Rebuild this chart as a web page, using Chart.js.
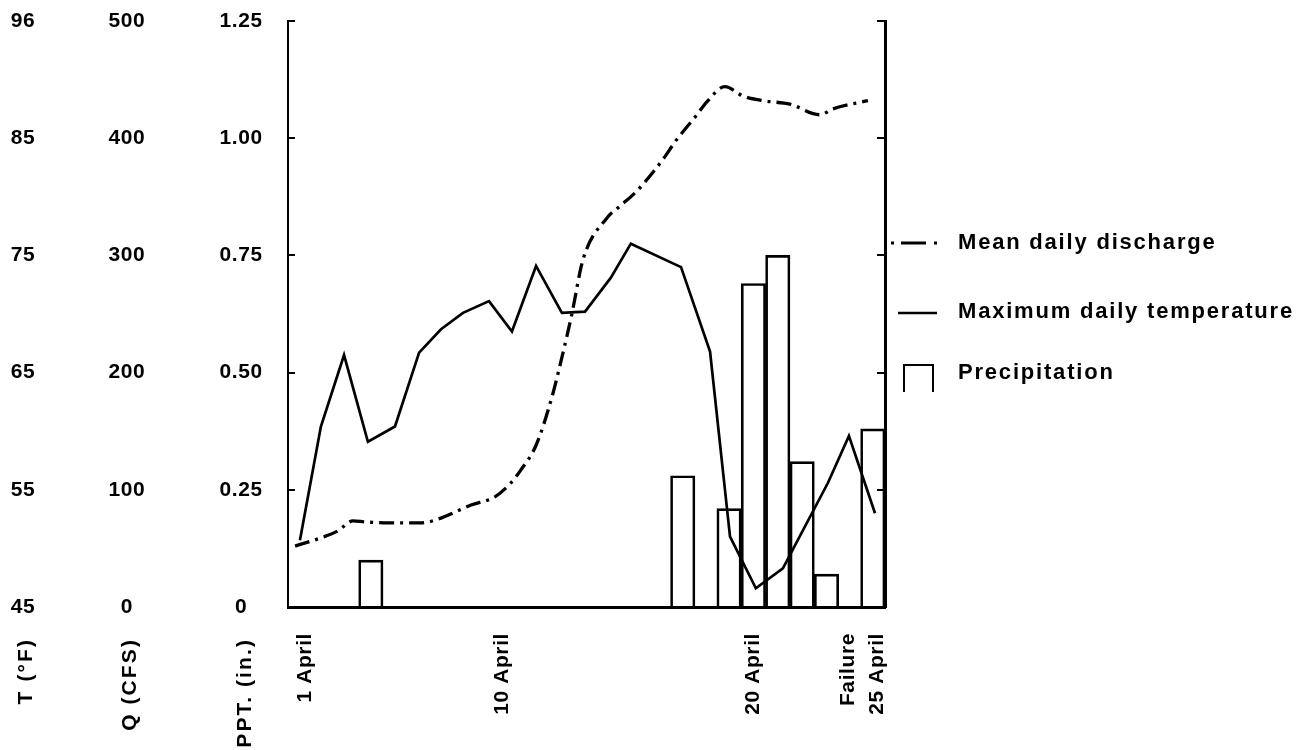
<!DOCTYPE html>
<html>
<head>
<meta charset="utf-8">
<script src="https://cdn.jsdelivr.net/npm/chart.js@4.4.1/dist/chart.umd.min.js"></script>
<style>
body{margin:0;background:#fff;}
</style>
</head>
<body>
<canvas id="myChart" width="1313" height="750"></canvas>
<script>
// x = day of April
var tempDays   = [0.99, 1.85, 2.80, 3.78, 4.89, 5.88, 6.78, 7.68, 8.75, 9.69, 10.68, 11.74, 12.69, 13.75, 14.57, 16.63, 17.82, 18.64, 19.70, 20.81, 22.66, 23.52, 24.59];
var tempValues = [50.7, 60.4, 66.5, 59.1, 60.4, 66.7, 68.7, 70.1, 71.1, 68.5, 74.1, 70.1, 70.2, 73.1, 76.0, 74.0, 66.8, 51.0, 46.6, 48.3, 55.6, 59.6, 53.0];

var dischargeDays   = [0.79, 1.85, 2.55, 3.17, 3.66, 4.60, 5.96, 6.66, 8.01, 8.99, 9.65, 10.06, 10.68, 11.33, 11.74, 12.15, 12.60, 13.59, 14.12, 14.82, 15.48, 15.89, 16.46, 17.28, 17.69, 18.43, 19.17, 19.99, 21.10, 22.33, 22.86, 24.30];
var dischargeValues = [52, 59, 65, 73.5, 72.6, 71.8, 71.8, 75, 87, 94, 106, 117, 138, 179, 213, 250, 296, 332, 342, 355, 371, 382, 399, 420, 431, 444, 436, 432, 429, 420, 425, 432];

var precipDays   = [3.9, 16.7, 18.6, 19.6, 20.6, 21.6, 22.6, 24.5];
var precipValues = [0.10, 0.28, 0.21, 0.69, 0.75, 0.31, 0.07, 0.38];

var xTickValues = [1.22, 9.28, 19.58, 23.48, 24.67];
var xTickLabels = ["1 April", "10 April", "20 April", "Failure", "25 April"];
var tTickValues = [45, 55, 65, 75, 85, 95];
var tTickLabels = ["45", "55", "65", "75", "85", "96"];
var qTickValues = [0, 100, 200, 300, 400, 500];
var qTickLabels = ["0", "100", "200", "300", "400", "500"];
var pTickValues = [0, 0.25, 0.5, 0.75, 1, 1.25];
var pTickLabels = ["0", "0.25", "0.50", "0.75", "1.00", "1.25"];

var axisTitles = ["T (°F)", "Q (CFS)", "PPT. (in.)"];
var legendLabels = ["Mean daily discharge", "Maximum daily temperature", "Precipitation"];

function pairs(xs, ys){
    var out = [];
    for (var i = 0; i < xs.length; i++) {
        out.push({x: xs[i], y: ys[i]});
    }
    return out;
}

function fixedTicks(values){
    return function(scale){
        scale.ticks = values.map(function(v){ return {value: v}; });
    };
}

function fixedWidth(w){
    return function(scale){ scale.width = w; };
}

Chart.defaults.font.family = "'Liberation Sans', Arial, sans-serif";
Chart.defaults.font.weight = "bold";
Chart.defaults.font.size = 21;
Chart.defaults.color = "#000";

var FONT = "bold 21px 'Liberation Sans', Arial, sans-serif";
var LEGEND_FONT = "bold 22px 'Liberation Sans', Arial, sans-serif";

var extras = {
    id: "extras",
    beforeDraw: function(chart){
        chart.ctx.letterSpacing = "0.6px";
    },
    afterDraw: function(chart){
        var ctx = chart.ctx;
        ctx.save();
        ctx.fillStyle = "#000";
        ctx.strokeStyle = "#000";

        // rotated axis titles under the tick columns
        var titleX = [26, 130, 245];
        ctx.font = FONT;
        ctx.letterSpacing = "2.1px";
        ctx.textAlign = "right";
        ctx.textBaseline = "middle";
        for (var i = 0; i < axisTitles.length; i++) {
            ctx.save();
            ctx.translate(titleX[i], 638);
            ctx.rotate(-Math.PI / 2);
            ctx.fillText(axisTitles[i], 0, 0);
            ctx.restore();
        }

        // legend
        ctx.font = LEGEND_FONT;
        ctx.letterSpacing = "1.8px";
        ctx.textAlign = "left";
        ctx.fillText(legendLabels[0], 958, 243);
        ctx.fillText(legendLabels[1], 958, 312);
        ctx.fillText(legendLabels[2], 958, 373);

        ctx.lineWidth = 3;
        ctx.setLineDash([3, 7, 25, 8, 3, 100]);
        ctx.beginPath();
        ctx.moveTo(891, 243);
        ctx.lineTo(942, 243);
        ctx.stroke();

        ctx.setLineDash([]);
        ctx.lineWidth = 2.5;
        ctx.beginPath();
        ctx.moveTo(898, 313);
        ctx.lineTo(937, 313);
        ctx.stroke();

        ctx.lineWidth = 2;
        ctx.beginPath();
        ctx.moveTo(904, 392);
        ctx.lineTo(904, 365);
        ctx.lineTo(933, 365);
        ctx.lineTo(933, 392);
        ctx.stroke();

        ctx.restore();
    }
};

var ctx = document.getElementById('myChart').getContext('2d');
var chart = new Chart(ctx, {
    type: 'bar',
    data: {
        datasets: [{
            type: 'line',
            label: legendLabels[0],
            data: pairs(dischargeDays, dischargeValues),
            yAxisID: 'yQ',
            borderColor: '#000',
            borderWidth: 3.3,
            borderDash: [15, 6, 3, 6],
            pointRadius: 0,
            cubicInterpolationMode: 'monotone',
            fill: false
        }, {
            type: 'line',
            label: legendLabels[1],
            data: pairs(tempDays, tempValues),
            yAxisID: 'yT',
            borderColor: '#000',
            borderWidth: 2.7,
            pointRadius: 0,
            tension: 0,
            fill: false
        }, {
            type: 'bar',
            label: legendLabels[2],
            data: pairs(precipDays, precipValues),
            yAxisID: 'yP',
            backgroundColor: 'rgba(0,0,0,0)',
            borderColor: '#000',
            borderWidth: 2,
            barPercentage: 1,
            categoryPercentage: 1
        }]
    },
    options: {
        responsive: false,
        animation: false,
        devicePixelRatio: 1,
        layout: {padding: {top: 21, right: 428, bottom: 0, left: 0}},
        plugins: {
            legend: {display: false},
            tooltip: {enabled: false}
        },
        scales: {
            x: {
                type: 'linear',
                min: 0.5,
                max: 25,
                offset: false,
                afterBuildTicks: fixedTicks(xTickValues),
                afterFit: function(scale){ scale.height = 143; },
                ticks: {
                    autoSkip: false,
                    minRotation: 90,
                    maxRotation: 90,
                    padding: 26,
                    callback: function(v, i){ return xTickLabels[i]; }
                },
                grid: {display: false, drawTicks: false},
                border: {display: true, color: '#000', width: 3}
            },
            // left axis line with inward tick marks
            yLine: {
                type: 'linear',
                position: 'left',
                weight: 0,
                min: 0,
                max: 1.25,
                afterBuildTicks: fixedTicks(pTickValues),
                afterFit: fixedWidth(26.5),
                ticks: {display: false},
                grid: {display: true, drawOnChartArea: false, drawTicks: true, tickLength: -7, color: '#000', lineWidth: 2},
                border: {display: true, color: '#000', width: 2}
            },
            yP: {
                type: 'linear',
                position: 'left',
                weight: 1,
                min: 0,
                max: 1.25,
                afterBuildTicks: fixedTicks(pTickValues),
                afterFit: fixedWidth(117),
                ticks: {
                    crossAlign: 'center',
                    padding: 0,
                    callback: function(v, i){ return pTickLabels[i]; }
                },
                grid: {display: false, drawTicks: false},
                border: {display: false}
            },
            yQ: {
                type: 'linear',
                position: 'left',
                weight: 2,
                min: 0,
                max: 500,
                afterBuildTicks: fixedTicks(qTickValues),
                afterFit: fixedWidth(109.8),
                ticks: {
                    crossAlign: 'center',
                    padding: 0,
                    callback: function(v, i){ return qTickLabels[i]; }
                },
                grid: {display: false, drawTicks: false},
                border: {display: false}
            },
            yT: {
                type: 'linear',
                position: 'left',
                weight: 3,
                min: 45,
                max: 95,
                afterBuildTicks: fixedTicks(tTickValues),
                afterFit: fixedWidth(34.7),
                ticks: {
                    crossAlign: 'center',
                    padding: 0,
                    callback: function(v, i){ return tTickLabels[i]; }
                },
                grid: {display: false, drawTicks: false},
                border: {display: false}
            },
            yR: {
                type: 'linear',
                position: 'right',
                min: 0,
                max: 1.25,
                afterBuildTicks: fixedTicks(pTickValues),
                afterFit: fixedWidth(0),
                ticks: {display: false},
                grid: {display: true, drawOnChartArea: false, drawTicks: true, tickLength: -8, color: '#000', lineWidth: 2},
                border: {display: true, color: '#000', width: 3}
            }
        }
    },
    plugins: [extras]
});
</script>
</body>
</html>
